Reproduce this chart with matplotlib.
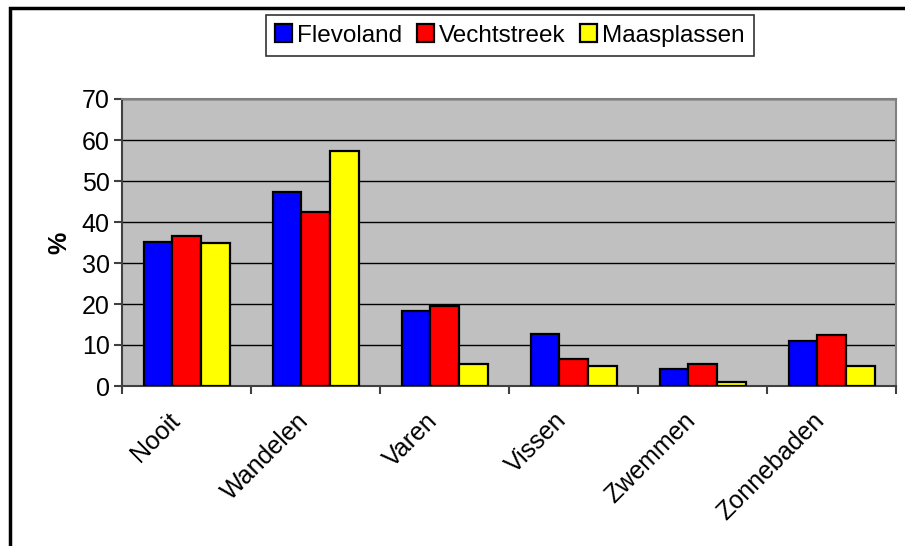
import matplotlib
matplotlib.use("Agg")
import matplotlib.pyplot as plt
import matplotlib.transforms as mtransforms
import numpy as np
from matplotlib.patches import Rectangle

# data
categories = ["Nooit", "Wandelen", "Varen", "Vissen", "Zwemmen", "Zonnebaden"]
flevoland = [35.2, 47.2, 18.4, 12.8, 4.1, 11.0]
vechtstreek = [36.7, 42.5, 19.6, 6.7, 5.4, 12.4]
maasplassen = [34.8, 57.3, 5.4, 5.0, 0.9, 5.0]
series_names = ["Flevoland", "Vechtstreek", "Maasplassen"]
colors = ["#0000FF", "#FF0000", "#FFFF00"]

plt.rcParams['font.family'] = ['Liberation Sans', 'DejaVu Sans']

fig = plt.figure(figsize=(9.05, 5.46), dpi=100)
ax = fig.add_axes([122/905, 1-386/546, (896-122)/905, (386-99)/546])
ax.set_facecolor("#C0C0C0")

x = np.arange(len(categories)) + 0.5
w = 1/4.5  # excel gap width 150
for k, vals in enumerate([flevoland, vechtstreek, maasplassen]):
    ax.bar(x + (k-1)*w, vals, w, color=colors[k], edgecolor="black",
           linewidth=1.6, label=series_names[k], zorder=3)

ax.set_xlim(0, 6)
ax.set_ylim(0, 70)
ax.set_yticks(range(0, 71, 10))
ax.yaxis.grid(True, color="black", linewidth=1, zorder=1)
ax.set_axisbelow(True)

# ticks at category boundaries, labels in the middle
ax.set_xticks(range(0, 7))
ax.set_xticklabels([])
ax.set_xticks(x, minor=True)
ax.set_xticklabels(categories, minor=True, rotation=45, ha="right",
                   rotation_mode="anchor", fontsize=18)
ax.tick_params(axis="x", which="minor", length=0, pad=16)
ax.tick_params(axis="x", which="major", length=6, width=1.5, color="#404040", direction="out")
ax.tick_params(axis="y", length=6, width=1.5, color="#404040", labelsize=18, pad=3)
shift = mtransforms.ScaledTranslation(-0.19, 0, fig.dpi_scale_trans)
for lab in ax.get_xticklabels(minor=True):
    lab.set_transform(lab.get_transform() + shift)

for s in ["left", "bottom"]:
    ax.spines[s].set_color("#404040")
    ax.spines[s].set_linewidth(1.5)
for s in ["top", "right"]:
    ax.spines[s].set_color("#808080")
    ax.spines[s].set_linewidth(1.5)

ax.set_ylabel("%", fontsize=18, fontweight="bold", labelpad=7)

leg = fig.legend(loc="center", bbox_to_anchor=(510/905, 1-35.5/546), ncol=3,
                 fontsize=17.5, frameon=True, fancybox=False, edgecolor="black",
                 handlelength=0.7, handleheight=0.7, handletextpad=0.2,
                 columnspacing=0.6, borderpad=0.4)
leg.get_frame().set_linewidth(1.2)

# border round the chart area
fig.patches.append(Rectangle((10/905, -0.05), 1.2, 1.05 - 8/546,
                             transform=fig.transFigure, fill=False,
                             edgecolor="black", linewidth=2.5))

fig.savefig("out.png", dpi=100)
